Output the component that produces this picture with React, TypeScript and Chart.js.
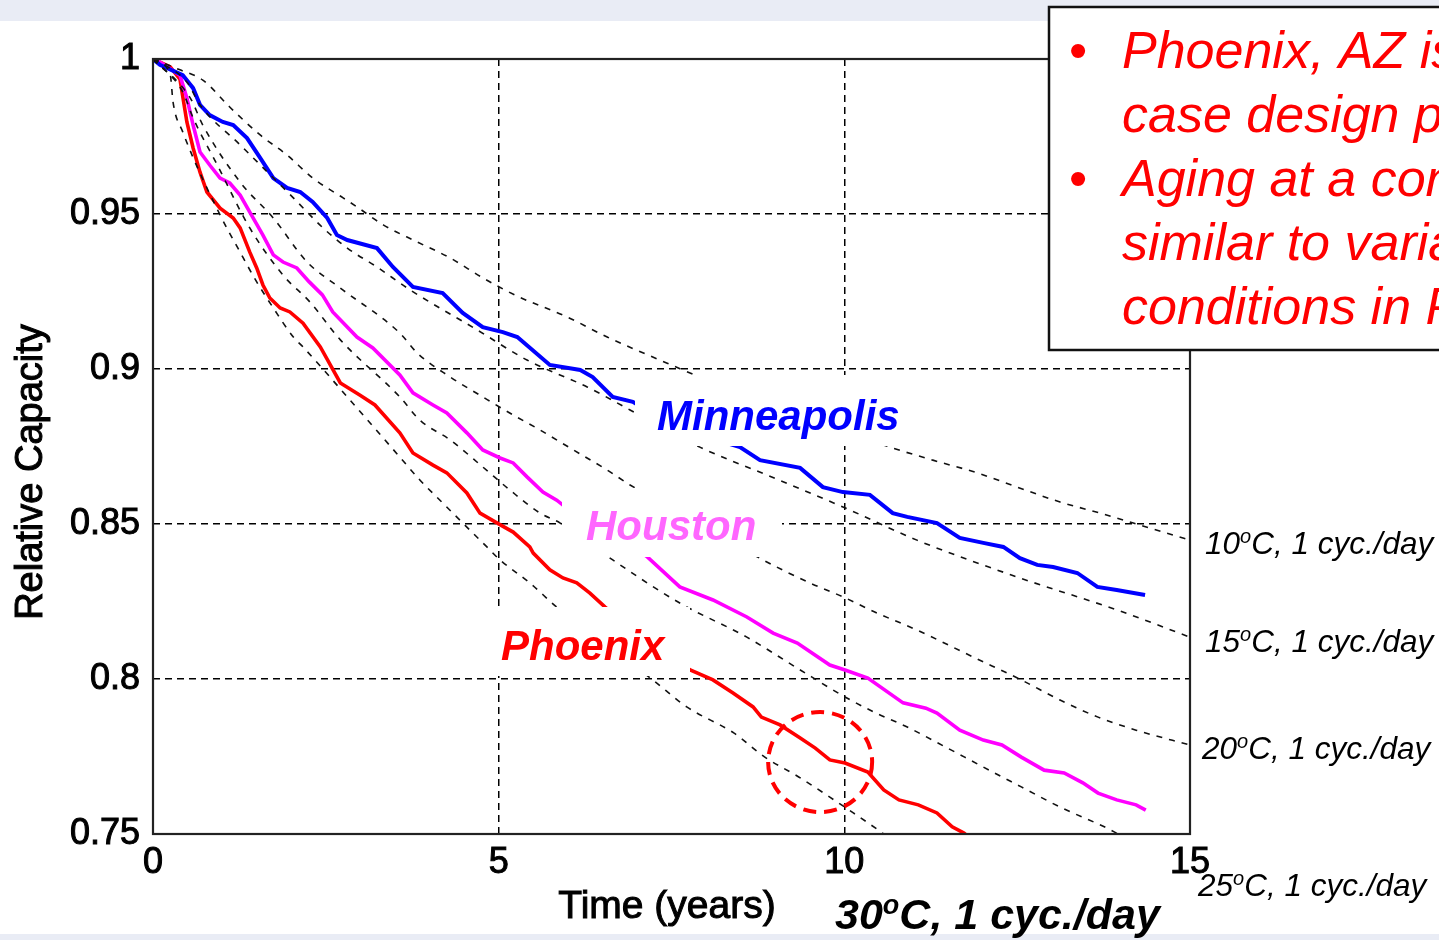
import React, { useEffect, useRef } from 'react';
import { Chart, registerables } from 'chart.js';

Chart.register(...registerables);

const W = 1439;
const H = 940;

// ---- tick labels ----
const xTickLabels = ['0', '5', '10', '15'];
const yTickLabels = ['0.75', '0.8', '0.85', '0.9', '0.95', '1'];

// ---- measured city curves (years, relative capacity) ----
const minneapolisYears = [0, 0.1, 0.43, 0.58, 0.68, 0.82, 1.01, 1.16, 1.36, 1.55, 1.74, 1.94, 2.13, 2.31, 2.52, 2.66, 2.81, 3.24, 3.47, 3.76, 4.19, 4.48, 4.77, 5.06, 5.27, 5.74, 6.18, 6.36, 6.65, 6.94, 7.5, 8.1, 8.49, 8.78, 9.36, 9.69, 9.98, 10.37, 10.7, 10.91, 11.34, 11.67, 12.01, 12.3, 12.54, 12.79, 13.02, 13.37, 13.66, 13.94, 14.35];
const minneapolisCapacity = [1.0, 0.9981, 0.9948, 0.9906, 0.9852, 0.9819, 0.9797, 0.9787, 0.9745, 0.9681, 0.9616, 0.9584, 0.9571, 0.9539, 0.9487, 0.9432, 0.9416, 0.939, 0.9329, 0.9265, 0.9245, 0.9181, 0.9135, 0.9119, 0.9103, 0.9013, 0.8997, 0.8974, 0.891, 0.8894, 0.882, 0.8775, 0.8748, 0.8706, 0.8681, 0.8619, 0.8603, 0.8594, 0.8535, 0.8523, 0.8503, 0.8455, 0.8439, 0.8426, 0.839, 0.8368, 0.8361, 0.8342, 0.8297, 0.8287, 0.8271];

const houstonYears = [0, 0.1, 0.39, 0.49, 0.58, 0.68, 0.82, 0.97, 1.11, 1.26, 1.4, 1.59, 1.74, 1.88, 2.08, 2.26, 2.45, 2.6, 2.95, 3.18, 3.57, 3.76, 4.05, 4.25, 4.54, 4.77, 5.02, 5.21, 5.41, 5.64, 5.84, 5.93, 6.5, 7.15, 7.62, 8.1, 8.59, 8.97, 9.32, 9.79, 10.01, 10.34, 10.85, 11.18, 11.34, 11.67, 12.01, 12.28, 12.56, 12.89, 13.18, 13.45, 13.67, 13.94, 14.22, 14.36];
const houstonCapacity = [1.0, 0.999, 0.9948, 0.9874, 0.9787, 0.97, 0.9658, 0.9616, 0.96, 0.9561, 0.9506, 0.9432, 0.9368, 0.9345, 0.9326, 0.9281, 0.9239, 0.9184, 0.9103, 0.9068, 0.8981, 0.8923, 0.8884, 0.8858, 0.8794, 0.8739, 0.8713, 0.8697, 0.8652, 0.8603, 0.8577, 0.8561, 0.849, 0.8394, 0.8297, 0.8255, 0.82, 0.8148, 0.8116, 0.8045, 0.8029, 0.8003, 0.7923, 0.7906, 0.789, 0.7835, 0.7803, 0.7787, 0.7748, 0.7706, 0.7697, 0.7665, 0.7632, 0.761, 0.7594, 0.7577];

const phoenixYears = [0, 0.1, 0.25, 0.39, 0.49, 0.58, 0.68, 0.78, 0.97, 1.16, 1.26, 1.4, 1.5, 1.59, 1.69, 1.84, 1.98, 2.17, 2.42, 2.71, 2.99, 3.21, 3.57, 3.76, 4.05, 4.25, 4.54, 4.73, 4.98, 5.21, 5.45, 5.5, 5.74, 5.93, 6.13, 6.32, 6.54, 7.2, 7.77, 8.1, 8.39, 8.68, 8.8, 9.07, 9.34, 9.58, 9.79, 10.01, 10.34, 10.57, 10.79, 11.07, 11.34, 11.56, 11.73, 11.8];
const phoenixCapacity = [1.0, 0.999, 0.9974, 0.9935, 0.9797, 0.9713, 0.9635, 0.9571, 0.9519, 0.9487, 0.9455, 0.9377, 0.9326, 0.9271, 0.9229, 0.9197, 0.9184, 0.9148, 0.9071, 0.8955, 0.8916, 0.8884, 0.8794, 0.8729, 0.869, 0.8665, 0.86, 0.8535, 0.8503, 0.8474, 0.8426, 0.8406, 0.8352, 0.8326, 0.831, 0.8277, 0.8232, 0.812, 0.8029, 0.7997, 0.7955, 0.791, 0.7877, 0.7852, 0.7813, 0.7777, 0.7739, 0.7729, 0.77, 0.7642, 0.761, 0.7594, 0.7568, 0.7523, 0.7503, 0.749];

// ---- constant-temperature model curves (1 cycle/day) ----
const model10Years = [0, 0.39, 0.72, 1.11, 1.55, 1.94, 2.31, 2.75, 2.95, 3.33, 3.82, 4.3, 4.77, 5.27, 5.99, 6.57, 7.33, 7.91, 9.36, 10.7, 11.28, 11.92, 12.5, 13.12, 13.7, 14.18, 15];
const model10Capacity = [1.0, 0.9965, 0.9932, 0.9845, 0.9755, 0.969, 0.9616, 0.9552, 0.9523, 0.9465, 0.941, 0.9358, 0.9294, 0.9235, 0.9168, 0.9103, 0.9029, 0.8974, 0.8848, 0.8745, 0.8706, 0.8665, 0.8619, 0.8571, 0.8535, 0.8503, 0.8448];

const model15Years = [0, 0.49, 0.68, 1.26, 2.03, 2.46, 2.81, 3.24, 3.72, 4.69, 5.41, 6.28, 6.9, 7.91, 8.88, 9.98, 11.05, 12.5, 13.94, 15];
const model15Capacity = [1.0, 0.9926, 0.9852, 0.9723, 0.9552, 0.9455, 0.939, 0.9329, 0.9255, 0.9126, 0.9029, 0.8942, 0.8868, 0.8748, 0.8658, 0.8555, 0.8448, 0.8329, 0.8223, 0.8135];

const model20Years = [0, 0.54, 0.72, 1.26, 1.74, 2.23, 2.71, 3.57, 3.82, 4.3, 4.77, 5.16, 5.6, 6.08, 6.57, 6.9, 7.91, 8.74, 9.5, 9.98, 10.47, 11.05, 11.89, 12.56, 13.12, 13.67, 14.22, 15];
const model20Capacity = [1.0, 0.9874, 0.9787, 0.9603, 0.9487, 0.9345, 0.9261, 0.9116, 0.9052, 0.8974, 0.891, 0.8858, 0.8803, 0.8739, 0.8674, 0.8626, 0.8503, 0.8394, 0.831, 0.8265, 0.8213, 0.8158, 0.8068, 0.7997, 0.7932, 0.7877, 0.7835, 0.7787];

const model25Years = [0, 0.43, 0.58, 0.93, 1.4, 1.88, 2.27, 2.71, 3.57, 3.86, 4.3, 4.77, 5.16, 5.6, 5.89, 6.65, 7.62, 8.59, 9.32, 10.01, 10.46, 10.91, 11.46, 12.01, 12.56, 13.12, 13.79, 13.96];
const model25Capacity = [1.0, 0.9894, 0.981, 0.9658, 0.9455, 0.9303, 0.9216, 0.9094, 0.891, 0.8835, 0.8771, 0.8684, 0.861, 0.8535, 0.8503, 0.8384, 0.8245, 0.8135, 0.8035, 0.7942, 0.789, 0.7845, 0.7781, 0.7716, 0.7652, 0.7587, 0.752, 0.75];

const model30Years = [0, 0.25, 0.29, 0.43, 0.97, 1.26, 1.5, 1.74, 2.03, 2.17, 2.85, 3.57, 3.86, 4.19, 4.54, 4.83, 5.02, 5.45, 5.84, 7.23, 7.72, 8.4, 8.85, 9.34, 9.79, 10.13, 10.49, 10.57];
const model30Capacity = [1.0, 0.9948, 0.9861, 0.9765, 0.9497, 0.9377, 0.9281, 0.9197, 0.9103, 0.9071, 0.89, 0.8716, 0.8642, 0.8568, 0.849, 0.8426, 0.8384, 0.831, 0.8232, 0.7997, 0.791, 0.7826, 0.7748, 0.7684, 0.7619, 0.7568, 0.7513, 0.75];

// ---- text ----
const cityNames = ['Minneapolis', 'Houston', 'Phoenix'];
const modelTemps = ['10', '15', '20', '25', '30'];
const modelSuffix = 'C, 1 cyc./day';
const xAxisTitle = 'Time (years)';
const yAxisTitle = 'Relative Capacity';
const noteLines = [
  { bullet: true, text: 'Phoenix, AZ is worst-' },
  { bullet: false, text: 'case design point' },
  { bullet: true, text: 'Aging at a constant 30' },
  { bullet: false, text: 'similar to variable' },
  { bullet: false, text: 'conditions in Phoenix' },
];

const FONT = '"Liberation Sans", Arial, Helvetica, sans-serif';

const pts = (xs: number[], ys: number[]) => xs.map((x, i) => ({ x, y: ys[i] }));

function heavyText(ctx: CanvasRenderingContext2D, s: string, x: number, y: number, w: number) {
  ctx.fillText(s, x, y);
  if (w > 0) {
    ctx.lineWidth = w;
    ctx.strokeStyle = ctx.fillStyle as string;
    ctx.setLineDash([]);
    ctx.strokeText(s, x, y);
  }
}

function drawSupLabel(ctx: CanvasRenderingContext2D, x: number, y: number, num: string, rest: string, style: string, size: number) {
  ctx.font = `${style} ${size}px ${FONT}`;
  ctx.textAlign = 'left';
  ctx.textBaseline = 'alphabetic';
  ctx.fillText(num, x, y);
  let cx = x + ctx.measureText(num).width;
  ctx.font = `${style} ${Math.round(size * 0.62)}px ${FONT}`;
  ctx.fillText('o', cx, y - size * 0.36);
  cx += ctx.measureText('o').width;
  ctx.font = `${style} ${size}px ${FONT}`;
  ctx.fillText(rest, cx, y);
}

const decorPlugin = {
  id: 'decor',
  beforeDraw(chart: any) {
    const ctx = chart.ctx as CanvasRenderingContext2D;
    ctx.save();
    ctx.fillStyle = '#ffffff';
    ctx.fillRect(0, 0, W, H);
    ctx.fillStyle = '#e9ecf5';
    ctx.fillRect(0, 0, W, 21);
    ctx.fillRect(0, 934, W, 6);
    ctx.restore();
  },
  afterDatasetsDraw(chart: any) {
    const ctx = chart.ctx as CanvasRenderingContext2D;
    const { left, right, top, bottom } = chart.chartArea;
    ctx.save();
    // white label boxes
    ctx.fillStyle = '#ffffff';
    ctx.fillRect(635, 375, 270, 71);
    ctx.fillRect(562, 488, 220, 69);
    ctx.fillRect(490, 607, 200, 69);
    // frame
    ctx.strokeStyle = '#222';
    ctx.lineWidth = 2.2;
    ctx.setLineDash([]);
    ctx.strokeRect(left, top, right - left, bottom - top);
    // city labels
    ctx.font = `italic bold 42px ${FONT}`;
    ctx.textBaseline = 'alphabetic';
    ctx.textAlign = 'left';
    ctx.fillStyle = '#0000ff';
    ctx.fillText(cityNames[0], 657, 430);
    ctx.fillStyle = '#ff66ff';
    ctx.fillText(cityNames[1], 586, 540);
    ctx.fillStyle = '#ff0000';
    ctx.fillText(cityNames[2], 501, 660);
    // dashed highlight circle
    const xs = chart.scales.x;
    const ys = chart.scales.y;
    const cx = xs.getPixelForValue(9.65);
    const cy = ys.getPixelForValue(0.7732);
    ctx.strokeStyle = '#ff0000';
    ctx.lineWidth = 4;
    ctx.setLineDash([13, 8]);
    ctx.beginPath();
    ctx.ellipse(cx, cy, 52, 50, 0, 0, Math.PI * 2);
    ctx.stroke();
    ctx.restore();
  },
  afterDraw(chart: any) {
    const ctx = chart.ctx as CanvasRenderingContext2D;
    ctx.save();
    ctx.fillStyle = '#000';
    // axis titles
    ctx.font = `39px ${FONT}`;
    ctx.textAlign = 'center';
    ctx.textBaseline = 'alphabetic';
    heavyText(ctx, xAxisTitle, 667, 918, 1);
    ctx.save();
    ctx.translate(42, 472);
    ctx.rotate(-Math.PI / 2);
    ctx.font = `38px ${FONT}`;
    heavyText(ctx, yAxisTitle, 0, 0, 1);
    ctx.restore();
    // model labels
    ctx.fillStyle = '#000';
    drawSupLabel(ctx, 1205, 554, modelTemps[0], modelSuffix, 'italic', 31.5);
    drawSupLabel(ctx, 1205, 652, modelTemps[1], modelSuffix, 'italic', 31.5);
    drawSupLabel(ctx, 1202, 759, modelTemps[2], modelSuffix, 'italic', 31.5);
    drawSupLabel(ctx, 1198, 896, modelTemps[3], modelSuffix, 'italic', 31.5);
    drawSupLabel(ctx, 835, 929, modelTemps[4], modelSuffix, 'italic bold', 43);
    // note box
    ctx.fillStyle = '#ffffff';
    ctx.fillRect(1049, 7, 400, 343);
    ctx.strokeStyle = '#111';
    ctx.lineWidth = 2.5;
    ctx.setLineDash([]);
    ctx.strokeRect(1049, 7, 420, 343);
    ctx.fillStyle = '#ff0000';
    ctx.textAlign = 'left';
    noteLines.forEach((ln, i) => {
      const by = 68 + i * 64;
      if (ln.bullet) {
        ctx.font = `52px ${FONT}`;
        ctx.fillText('\u2022', 1069, by);
      }
      ctx.font = `italic 52px ${FONT}`;
      ctx.fillText(ln.text, 1122, by);
    });
    ctx.restore();
  },
};

export default function App() {
  const ref = useRef<HTMLCanvasElement | null>(null);

  useEffect(() => {
    if (!ref.current) return;
    const dashedDs = (xs: number[], ys: number[]) => ({
      data: pts(xs, ys),
      borderColor: '#111',
      borderWidth: 1.6,
      borderDash: [6, 7],
      pointRadius: 0,
      fill: false,
      cubicInterpolationMode: 'monotone' as const,
    });
    const solidDs = (xs: number[], ys: number[], color: string, w: number) => ({
      data: pts(xs, ys),
      borderColor: color,
      borderWidth: w,
      pointRadius: 0,
      fill: false,
      tension: 0,
    });
    const tickFont = { family: FONT, size: 36 };
    const chart = new Chart(ref.current, {
      type: 'line',
      data: {
        datasets: [
          dashedDs(model10Years, model10Capacity),
          dashedDs(model15Years, model15Capacity),
          dashedDs(model20Years, model20Capacity),
          dashedDs(model25Years, model25Capacity),
          dashedDs(model30Years, model30Capacity),
          solidDs(minneapolisYears, minneapolisCapacity, '#0000ff', 4),
          solidDs(houstonYears, houstonCapacity, '#ff00ff', 3.6),
          solidDs(phoenixYears, phoenixCapacity, '#ff0000', 3.6),
        ] as any,
      },
      options: {
        responsive: false,
        animation: false,
        devicePixelRatio: 1,
        layout: { padding: { left: 0, top: 59, right: 249, bottom: 0 } },
        plugins: { legend: { display: false }, tooltip: { enabled: false }, title: { display: false } },
        scales: {
          x: {
            type: 'linear',
            min: 0,
            max: 15,
            afterFit: (s: any) => { s.height = 106; },
            afterBuildTicks: (s: any) => { s.ticks = xTickLabels.map((l) => ({ value: parseFloat(l) })); },
            ticks: {
              callback: (_v: any, i: number) => xTickLabels[i],
              font: tickFont,
              color: '#000',
              textStrokeColor: '#000',
              textStrokeWidth: 1,
              padding: 7,
              maxRotation: 0,
              autoSkip: false,
            },
            grid: { color: '#000', lineWidth: 1.5, drawTicks: false },
            border: { display: false, dash: [7, 5] },
          },
          y: {
            type: 'linear',
            min: 0.75,
            max: 1,
            afterFit: (s: any) => { s.width = 153; },
            afterBuildTicks: (s: any) => { s.ticks = yTickLabels.map((l) => ({ value: parseFloat(l) })); },
            ticks: {
              callback: (_v: any, i: number) => yTickLabels[i],
              font: tickFont,
              color: '#000',
              textStrokeColor: '#000',
              textStrokeWidth: 1,
              padding: 13,
              autoSkip: false,
            },
            grid: { color: '#000', lineWidth: 1.5, drawTicks: false },
            border: { display: false, dash: [7, 5] },
          },
        },
      } as any,
      plugins: [decorPlugin],
    });
    return () => chart.destroy();
  }, []);

  return (
    <div style={{ position: 'fixed', left: 0, top: 0, width: W, height: H, overflow: 'hidden', background: '#fff' }}>
      <canvas ref={ref} width={W} height={H} style={{ display: 'block', width: W, height: H }} />
    </div>
  );
}
